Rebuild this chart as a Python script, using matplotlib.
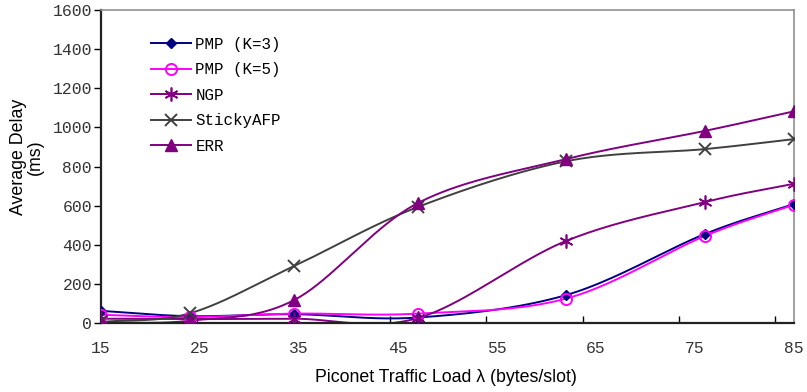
import matplotlib
matplotlib.use('agg')
import matplotlib.pyplot as plt
import numpy as np

# traffic load (bytes/slot) and average delay (ms) per scheme
load = [15, 24, 34.5, 47, 62, 76, 85]
pmp_k3 = [62, 35, 45, 28, 143, 455, 608]
pmp_k5 = [42, 30, 48, 48, 125, 445, 605]
ngp = [22, 20, 22, 25, 420, 618, 712]
sticky = [5, 50, 291, 593, 827, 889, 940]
err = [2, 12, 117, 613, 838, 982, 1082]

x_labels = ['15', '25', '35', '45', '55', '65', '75', '85']


def smooth(x, y, n=40):
    # Catmull-Rom curve through the points, like a spreadsheet "smoothed line"
    x = np.asarray(x, float)
    y = np.asarray(y, float)
    px = np.concatenate([[2*x[0]-x[1]], x, [2*x[-1]-x[-2]]])
    py = np.concatenate([[2*y[0]-y[1]], y, [2*y[-1]-y[-2]]])
    xs, ys = [], []
    t = np.linspace(0, 1, n)
    for i in range(1, len(px)-2):
        for p, out in ((px, xs), (py, ys)):
            p0, p1, p2, p3 = p[i-1], p[i], p[i+1], p[i+2]
            out.extend(0.5*((2*p1) + (-p0+p2)*t + (2*p0-5*p1+4*p2-p3)*t**2
                            + (-p0+3*p1-3*p2+p3)*t**3))
    return xs, ys


series = [
    ('PMP (K=3)', pmp_k3, '#000080', dict(marker='D', ms=5, mfc='#000080', mec='#000080')),
    ('PMP (K=5)', pmp_k5, '#ff00ff', dict(marker='o', ms=8, mfc='none', mec='#ff00ff', mew=1.4)),
    ('NGP', ngp, '#800080', dict(marker=(6, 2, 0), ms=10, mec='#800080', mew=1.2)),
    ('StickyAFP', sticky, '#404040', dict(marker='x', ms=9, mec='#404040', mew=1.4)),
    ('ERR', err, '#800080', dict(marker='^', ms=8, mfc='#800080', mec='#800080')),
]

fig = plt.figure(figsize=(8.07, 3.92), dpi=100)
ax = fig.add_axes([0.1252, 0.176, 0.8587, 0.7985])

handles = []
for name, vals, col, mk in series:
    sx, sy = smooth(load, vals)
    ax.plot(sx, sy, color=col, lw=1.4, zorder=2)
    ax.plot(load, vals, ls='none', zorder=3, **mk)
    h, = ax.plot([], [], color=col, lw=1.4, label=name, **mk)
    handles.append(h)

ax.set_xlim(15, 85)
ax.set_ylim(0, 1600)

mono = 'Liberation Mono'
ax.set_yticks(np.arange(0, 1601, 200))
ax.set_yticklabels([str(v) for v in range(0, 1601, 200)], fontfamily=mono,
                   fontsize=11.8, color='#333333')
ax.tick_params(axis='y', direction='out', length=5, width=1, pad=1.5)

ax.set_xticks(np.arange(15, 86, 10))
ax.set_xticklabels(x_labels, fontfamily=mono, fontsize=11.8, color='#333333')
ax.tick_params(axis='x', which='major', length=0, pad=13)
ax.set_xticks(15 + np.arange(8)*9.73, minor=True)
ax.tick_params(axis='x', which='minor', direction='in', length=5, width=1)

for s in ('left', 'bottom'):
    ax.spines[s].set_color('#222222')
    ax.spines[s].set_linewidth(1.6)
for s in ('top', 'right'):
    ax.spines[s].set_color('#909090')
    ax.spines[s].set_linewidth(1.2)

fig.text(27/807, 1-157/392, 'Average Delay\n(ms)', rotation=90, ha='center', va='center',
         multialignment='center', fontfamily='Liberation Sans', fontsize=12.8, linespacing=1.0)
fig.text(446/807, 1-378/392, 'Piconet Traffic Load λ (bytes/slot)', ha='center', va='center',
         fontfamily='Liberation Sans', fontsize=12.8)

ax.legend(handles=handles, loc='upper left', bbox_to_anchor=(0.072, 0.915), frameon=False,
          prop={'family': mono, 'size': 11.4}, handlelength=2.55, handletextpad=0.25,
          labelspacing=0.67, borderaxespad=0, borderpad=0)

fig.savefig('out.png', dpi=100)
plt.close(fig)
